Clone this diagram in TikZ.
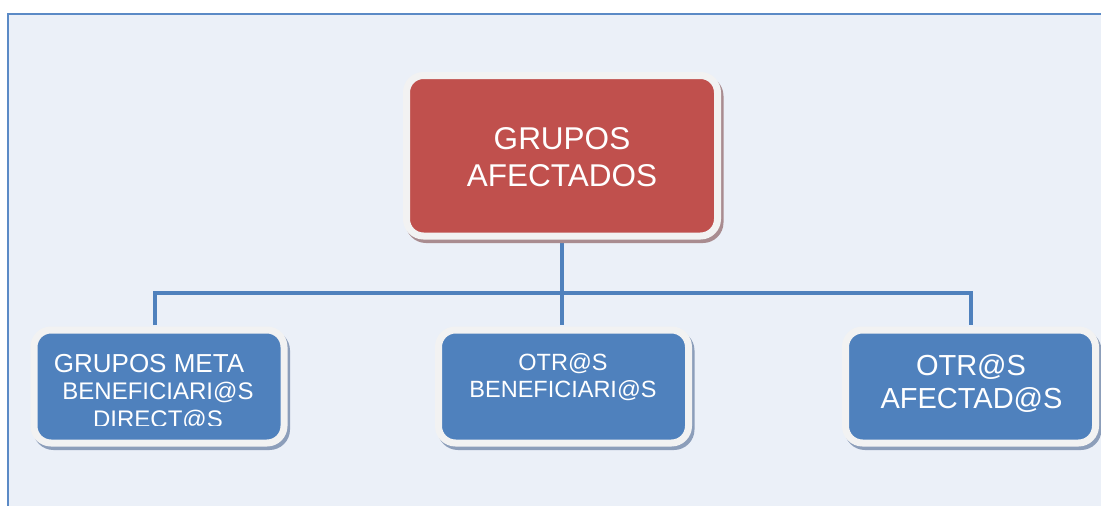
\documentclass[tikz,border=0pt]{standalone}
\usepackage{fontspec}
\setmainfont{Liberation Sans}
\definecolor{bgfill}{HTML}{EBF0F8}
\definecolor{frameblue}{HTML}{5B8AC6}
\definecolor{connblue}{HTML}{4F81BD}
\definecolor{redfill}{HTML}{C0504D}
\definecolor{bluefill}{HTML}{4F81BD}
\definecolor{rim}{HTML}{F2F2F2}
\definecolor{redshadow}{HTML}{A98C90}
\definecolor{blueshadow}{HTML}{8C9EBA}
\tikzset{
  boxbase/.style={rectangle, rounded corners=17pt, draw=rim, line width=7pt, inner sep=0pt},
  redbox/.style={boxbase, fill=redfill, minimum width=311pt, minimum height=160.5pt,
    preaction={fill=redshadow, draw=redshadow, transform canvas={shift={(2.5pt,-3.5pt)}}}},
  bluebox/.style={boxbase, fill=bluefill, minimum width=250pt, minimum height=113pt,
    preaction={fill=blueshadow, draw=blueshadow, transform canvas={shift={(2.5pt,-3.5pt)}}}},
  txt/.style={text=white, inner sep=0pt, anchor=base},
  conn/.style={draw=connblue, line width=4pt},
}
\begin{document}
\begin{tikzpicture}[x=1pt,y=-1pt]
\useasboundingbox (0,0) rectangle (1101,506);
\fill[bgfill] (7.8,14) rectangle (1101,506);
\draw[frameblue, line width=2.4pt] (1101,14) -- (7.8,14) -- (7.8,506);

% connectors (drawn under the boxes)
\coordinate (jn) at (562,293);
\coordinate (c1) at (155,293);
\coordinate (c3) at (971,293);
\coordinate (topbot) at (562,240);
\coordinate (e1) at (155,325);
\coordinate (e2) at (562,325);
\coordinate (e3) at (971,325);
\draw[conn, line join=miter] (e1) -- (c1) -- (c3) -- (e3);
\draw[conn] (topbot) -- (e2);

% boxes
\node[redbox] (top) at (562,155.75) {};
\node[bluebox] (b1) at (159,386.5) {};
\node[bluebox] (b2) at (563.5,386.5) {};
\node[bluebox] (b3) at (970.5,386.5) {};

% texts
\node[txt, font=\fontsize{31.5}{37}\selectfont] (t1a) at (562,149) {GRUPOS};
\node[txt, font=\fontsize{31.5}{37}\selectfont] (t1b) at (562,186) {AFECTADOS};

\node[txt, font=\fontsize{26}{27}\selectfont] (t2a) at (149,372) {GRUPOS META};
\node[txt, font=\fontsize{24}{27}\selectfont] (t2b) at (158,399) {BENEFICIARI@S};
\begin{scope}
  \clip (0,0) rectangle (1101,425);
  \node[txt, font=\fontsize{24}{27}\selectfont] (t2c) at (158,427) {DIRECT@S};
\end{scope}

\node[txt, font=\fontsize{23.5}{27}\selectfont] (t3a) at (563,370) {OTR@S};
\node[txt, font=\fontsize{23.5}{27}\selectfont] (t3b) at (563,397) {BENEFICIARI@S};

\node[txt, font=\fontsize{29}{33}\selectfont] (t4a) at (971,375) {OTR@S};
\node[txt, font=\fontsize{29}{33}\selectfont] (t4b) at (971.5,408) {AFECTAD@S};
\end{tikzpicture}
\end{document}
